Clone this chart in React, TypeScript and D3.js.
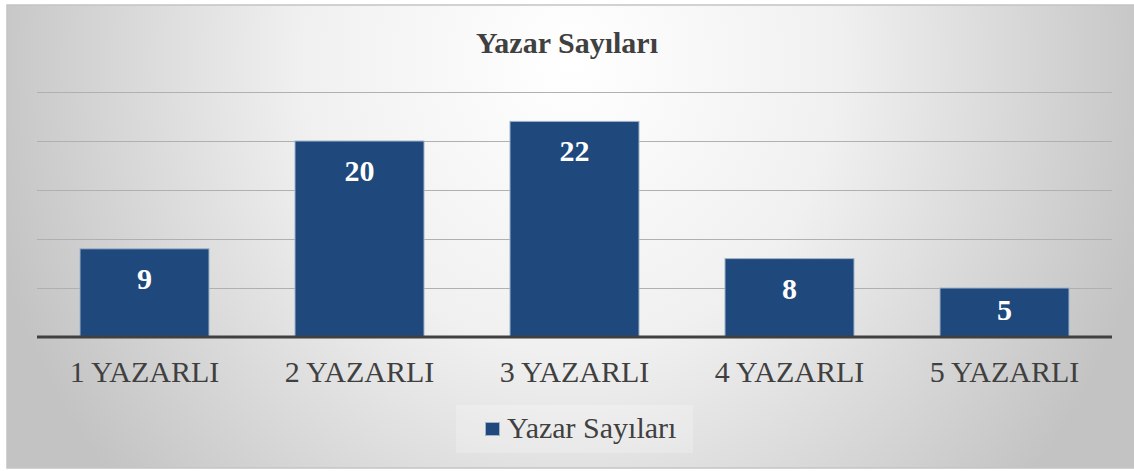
import React from "react";
import * as d3 from "d3";

const categories = ["1 YAZARLI", "2 YAZARLI", "3 YAZARLI", "4 YAZARLI", "5 YAZARLI"];
const values = [9, 20, 22, 8, 5];
const gridTicks = [5, 10, 15, 20, 25];
const title = "Yazar Sayıları";
const seriesName = "Yazar Sayıları";

const W = 1134;
const H = 471;
const FONT = '"Liberation Serif", "Times New Roman", Times, "DejaVu Serif", serif';

export default function App() {
  const plotLeft = 37;
  const plotRight = 1112;
  const plotTop = 92;
  const plotBottom = 337;

  const x = d3.scaleBand<string>().domain(categories).range([plotLeft, plotRight]).paddingInner(0.4).paddingOuter(0.2);
  const y = d3.scaleLinear().domain([0, 25]).range([plotBottom, plotTop]);

  const txt = (size: number, bold: boolean, fill: string): React.CSSProperties => ({
    fontFamily: FONT,
    fontSize: size,
    fontWeight: bold ? 700 : 400,
    fill,
  });

  return (
    <svg width={W} height={H} style={{ position: "fixed", left: 0, top: 0, display: "block" }}>
      <defs>
        <radialGradient id="bg" gradientUnits="userSpaceOnUse" cx={0} cy={0} r={1}
          gradientTransform="translate(570,60) scale(600,650)">
          <stop offset="0" stopColor="#ffffff" />
          <stop offset="0.45" stopColor="#f0f0f0" />
          <stop offset="1" stopColor="#c3c3c3" />
        </radialGradient>
      </defs>
      <rect x={0} y={0} width={W} height={H} fill="#ffffff" />
      <rect x={7} y={5} width={1140} height={463} fill="url(#bg)" stroke="#c4c4c4" strokeWidth={1.5} />

      <text x={567} y={53} textAnchor="middle" style={txt(30, true, "#404040")}>
        {title}
      </text>

      {gridTicks.map((t) => (
        <line key={t} x1={plotLeft} x2={plotRight} y1={Math.round(y(t)) + 0.5} y2={Math.round(y(t)) + 0.5}
          stroke="#b0b0b0" strokeWidth={1} />
      ))}

      {categories.map((c, i) => {
        const v = values[i];
        const top = y(v);
        const h = plotBottom - top;
        const bx = x(c) as number;
        const bw = x.bandwidth();
        const labelY = Math.min(top + 40, top + h / 2 + 7);
        return (
          <g key={c}>
            <rect x={bx} y={top} width={bw} height={h} fill="#1f497d" stroke="#9fb3cb" strokeWidth={1} />
            <text x={bx + bw / 2} y={labelY} textAnchor="middle" style={txt(30, true, "#ffffff")}>
              {v}
            </text>
          </g>
        );
      })}

      <line x1={plotLeft} x2={plotRight} y1={plotBottom} y2={plotBottom} stroke="#404040" strokeWidth={3} />

      {categories.map((c) => (
        <text key={c} x={(x(c) as number) + x.bandwidth() / 2} y={382} textAnchor="middle" style={txt(30, false, "#404040")}>
          {c}
        </text>
      ))}

      <rect x={456} y={405} width={237} height={48} fill="#ffffff" opacity={0.22} />
      <rect x={485.5} y={422.5} width={14} height={13} fill="#1f497d" stroke="#9fb3cb" strokeWidth={1} />
      <text x={507} y={438} style={txt(30, false, "#404040")}>
        {seriesName}
      </text>
    </svg>
  );
}
